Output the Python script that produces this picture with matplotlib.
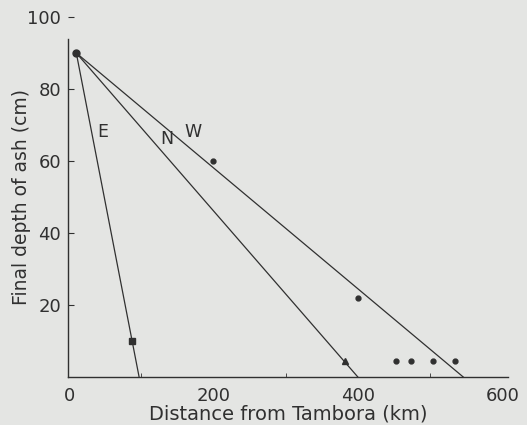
import matplotlib
matplotlib.use("Agg")
import matplotlib.pyplot as plt

# Data
source_x = [10]
source_y = [90]

e_line_x = [10, 97]
e_line_y = [90, 0]
e_obs_x = [87]
e_obs_y = [10]

n_line_x = [10, 400]
n_line_y = [90, 0]
n_obs_x = [382]
n_obs_y = [4.5]

w_line_x = [10, 546]
w_line_y = [90, 0]
w_obs_x = [200, 400, 453, 474, 504, 535]
w_obs_y = [60, 22, 4.5, 4.5, 4.5, 4.5]

line_labels = ["E", "N", "W"]
label_x = [47, 136, 172]
label_y = [68, 66, 68]

x_ticks = [0, 200, 400, 600]
y_ticks = [20, 40, 60, 80, 100]

bg = "#e4e5e3"
ink = "#303030"

fig = plt.figure(figsize=(5.27, 4.25), dpi=100, facecolor=bg)
ax = fig.add_axes([68/527, 48/425, 440/527, 360/425], facecolor=bg)

lw = 0.9
ax.plot(e_line_x, e_line_y, color=ink, lw=lw)
ax.plot(n_line_x, n_line_y, color=ink, lw=lw)
ax.plot(w_line_x, w_line_y, color=ink, lw=lw)

ax.plot(source_x, source_y, "o", color=ink, ms=5)
ax.plot(e_obs_x, e_obs_y, "s", color=ink, ms=5)
ax.plot(n_obs_x, n_obs_y, "^", color=ink, ms=5)
ax.plot(w_obs_x, w_obs_y, "o", color=ink, ms=3.5)

for t, x, y in zip(line_labels, label_x, label_y):
    ax.text(x, y, t, color=ink, fontsize=12.5, ha="center", va="center")

ax.set_xlim(-1.5, 608)
ax.set_ylim(0, 100)
ax.spines["top"].set_visible(False)
ax.spines["right"].set_visible(False)
for s in ["left", "bottom"]:
    ax.spines[s].set_color(ink)
    ax.spines[s].set_linewidth(1.0)
ax.spines["left"].set_bounds(0, 94)

ax.set_xticks(x_ticks)
ax.set_xticks([100, 300, 500], minor=True)
ax.set_yticks(y_ticks)
ax.tick_params(axis="both", which="both", direction="in", color=ink,
               labelcolor=ink, labelsize=13)
ax.tick_params(axis="x", which="major", length=0, pad=7)
ax.tick_params(axis="x", which="minor", length=3)
ax.tick_params(axis="y", which="major", length=4, pad=5)

ax.set_xlabel("Distance from Tambora (km)", color=ink, fontsize=14, labelpad=0)
ax.set_ylabel("Final depth of ash (cm)", color=ink, fontsize=13.5, labelpad=-3)

fig.savefig("out.png", dpi=100, facecolor=bg)
